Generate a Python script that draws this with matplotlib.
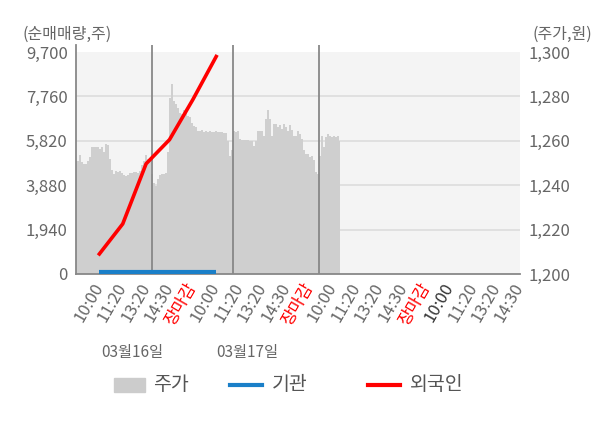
import numpy as np
import matplotlib
matplotlib.use("Agg")
import matplotlib.pyplot as plt
from matplotlib.patches import Rectangle
from matplotlib.lines import Line2D

plt.rcParams['font.family'] = ['Noto Sans CJK KR', 'DejaVu Sans']

# ---- data ----
price = [1250.8, 1250.8, 1253.8, 1250.5, 1249.5, 1249.5, 1251.0, 1252.5, 1257.0, 1257.0,
         1257.0, 1257.0, 1256.5, 1257.0, 1255.0, 1258.5, 1258.0, 1252.0, 1247.0, 1245.0,
         1246.5, 1246.0, 1246.5, 1245.5, 1244.5, 1244.0, 1244.5, 1245.5, 1245.5, 1246.0,
         1246.0, 1245.5, 1246.5, 1249.0, 1251.0, 1253.5, 1252.0, 1251.0, 1245.0, 1241.0,
         1239.5, 1243.0, 1244.5, 1245.0, 1245.0, 1245.5, 1255.0, 1279.5, 1285.5, 1278.0,
         1276.5, 1275.0, 1272.5, 1272.0, 1274.0, 1273.5, 1271.0, 1270.5, 1268.0, 1266.5,
         1266.0, 1264.5, 1264.5, 1265.0, 1264.0, 1264.5, 1264.0, 1264.5, 1264.0, 1264.0,
         1264.5, 1264.0, 1264.0, 1264.0, 1263.5, 1263.5, 1260.0, 1253.0, 1256.0, 1264.5,
         1264.0, 1264.5, 1261.0, 1260.5, 1260.5, 1260.5, 1260.5, 1260.0, 1259.7, 1257.6,
         1260.0, 1264.4, 1264.4, 1264.4, 1262.0, 1270.0, 1274.0, 1270.0, 1262.0, 1267.4,
         1267.4, 1266.0, 1267.0, 1265.5, 1267.4, 1266.0, 1264.4, 1267.0, 1265.0, 1262.0,
         1262.0, 1264.4, 1263.0, 1260.6, 1256.0, 1254.0, 1254.0, 1252.5, 1253.0, 1251.5,
         1246.0, 1245.0, 1253.0, 1262.0, 1257.0, 1261.5, 1263.0, 1262.0, 1261.5, 1262.0,
         1261.5, 1262.0, 1260.0]
foreign = [876, 2190, 4817, 5868, 7620, 9503]
institution = [85, 85, 85, 85, 85, 85]
tick_labels = ['10:00', '11:20', '13:20', '14:30', '장마감',
               '10:00', '11:20', '13:20', '14:30', '장마감',
               '10:00', '11:20', '13:20', '14:30', '장마감',
               '10:00', '11:20', '13:20', '14:30']
left_ticks = [0, 1940, 3880, 5820, 7760, 9700]
right_ticks = [1200, 1220, 1240, 1260, 1280, 1300]
dates = ['03월16일', '03월17일']

# ---- layout ----
W, H = 600, 428
fig = plt.figure(figsize=(W / 100, H / 100), dpi=100)
L, R, B, T = 76, 520, 274, 45
ax2 = fig.add_axes([L / W, 1 - B / H, (R - L) / W, (B - T) / H])
ax = ax2.twinx()  # left-valued axis drawn on top
ax.yaxis.set_label_position('left')
ax.yaxis.tick_left()
ax2.yaxis.tick_right()

XW = R - L
slot = XW / len(tick_labels)
ax.set_xlim(0, XW)
ax2.set_xlim(0, XW)
top_extra = (52 - T) / (B - 52)
ax.set_ylim(0, 9700 * (1 + top_extra))
ax2.set_ylim(1200, 1300 + 100 * top_extra)

# background + grid on price axis (bottom layer)
ax2.set_facecolor('white')
ax2.axhspan(1200, 1300, color='#f4f4f4', zorder=0, lw=0)
for v in right_ticks[1:-1]:
    ax2.axhline(v, color='#dddddd', lw=1.2, zorder=1)
px = np.arange(len(price)) * 2.0
ax2.fill_between(px, 1200, price, color='#cfcfcf', lw=0, step='mid', zorder=2)

# day separators
seps = [76, 157, 243]
for s in seps:
    ax.axvline(s, color='#888888', lw=1.3, zorder=3)

lx = np.arange(1, len(foreign) + 1) * slot
ax.plot(lx, institution, color='#1a7fc8', lw=3, zorder=5, solid_capstyle='butt')
ax.plot(lx, foreign, color='#ff0000', lw=2.6, zorder=6)

# axes styling
for a in (ax, ax2):
    for sp in ('top', 'right', 'left', 'bottom'):
        a.spines[sp].set_visible(False)
ax.spines['left'].set_visible(True)
ax.spines['left'].set_color('#888888')
ax.spines['left'].set_linewidth(1.3)
ax.spines['bottom'].set_visible(True)
ax.spines['bottom'].set_color('#888888')
ax.spines['bottom'].set_linewidth(1.3)

ax.set_yticks(left_ticks)
ax.set_yticklabels([f'{v:,}' for v in left_ticks])
ax2.set_yticks(right_ticks)
ax2.set_yticklabels([f'{v:,}' for v in right_ticks])
ax.tick_params(axis='y', length=0, pad=6, labelsize=12, labelcolor='#666666')
ax2.tick_params(axis='y', length=0, pad=6, labelsize=12, labelcolor='#666666')

ax.set_xticks([0] + seps[1:] + [XW])
ax.set_xticklabels([])
ax.tick_params(axis='x', length=5, width=1.3, color='#888888')
ax2.set_xticks([])

for k, lab in enumerate(tick_labels):
    col = '#666666'
    if lab == '장마감':
        col = '#ff0000'
    elif k == 15:
        col = '#333333'
    ax.text((k + 1) * slot, -0.045, lab, transform=ax.get_xaxis_transform(),
            rotation=60, rotation_mode='anchor', ha='right', va='center',
            fontsize=12, color=col)

# titles
fig.text(22 / W, 1 - 34 / H, '(순매매량,주)', fontsize=11.5, color='#666666', va='center', ha='left')
fig.text(592 / W, 1 - 34 / H, '(주가,원)', fontsize=11.5, color='#666666', va='center', ha='right')

# dates
fig.text(132 / W, 1 - 353 / H, dates[0], fontsize=11, color='#666666', ha='center', va='center')
fig.text(247 / W, 1 - 353 / H, dates[1], fontsize=11, color='#666666', ha='center', va='center')

# legend
ly = 1 - 385 / H
fig.add_artist(Rectangle((114 / W, 1 - 392 / H), 31 / W, 14 / H, color='#cccccc', transform=fig.transFigure))
fig.text(153 / W, ly, '주가', fontsize=14, color='#555555', va='center')
fig.add_artist(Line2D([230 / W, 262 / W], [ly, ly], color='#1a7fc8', lw=3, transform=fig.transFigure))
fig.text(272 / W, ly, '기관', fontsize=14, color='#555555', va='center')
fig.add_artist(Line2D([368 / W, 400 / W], [ly, ly], color='#ff0000', lw=3, transform=fig.transFigure))
fig.text(410 / W, ly, '외국인', fontsize=14, color='#555555', va='center')

fig.savefig('out.png', dpi=100)
